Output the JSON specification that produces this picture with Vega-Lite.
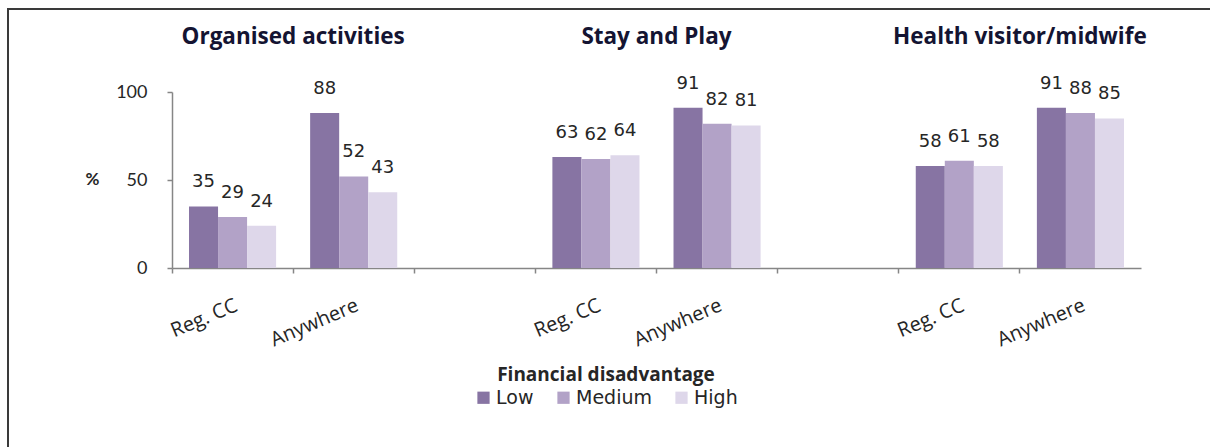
{
  "$schema": "https://vega.github.io/schema/vega-lite/v6.json",
  "width": 1202,
  "height": 438,
  "autosize": "none",
  "padding": {"left": 8, "top": 9, "right": 0, "bottom": 0},
  "background": "white",
  "config": {
    "view": {"stroke": "#3a3a3a", "strokeWidth": 2, "strokeDash": [1202, 1640, 440, 20]},
    "font": "Lato"
  },
  "datasets": {
    "bars": [
      {"cat": "Organised activities|Reg. CC", "level": "Low", "value": 35},
      {"cat": "Organised activities|Reg. CC", "level": "Medium", "value": 29},
      {"cat": "Organised activities|Reg. CC", "level": "High", "value": 24},
      {"cat": "Organised activities|Anywhere", "level": "Low", "value": 88},
      {"cat": "Organised activities|Anywhere", "level": "Medium", "value": 52},
      {"cat": "Organised activities|Anywhere", "level": "High", "value": 43},
      {"cat": "Stay and Play|Reg. CC", "level": "Low", "value": 63},
      {"cat": "Stay and Play|Reg. CC", "level": "Medium", "value": 62},
      {"cat": "Stay and Play|Reg. CC", "level": "High", "value": 64},
      {"cat": "Stay and Play|Anywhere", "level": "Low", "value": 91},
      {"cat": "Stay and Play|Anywhere", "level": "Medium", "value": 82},
      {"cat": "Stay and Play|Anywhere", "level": "High", "value": 81},
      {"cat": "Health visitor/midwife|Reg. CC", "level": "Low", "value": 58},
      {"cat": "Health visitor/midwife|Reg. CC", "level": "Medium", "value": 61},
      {"cat": "Health visitor/midwife|Reg. CC", "level": "High", "value": 58},
      {"cat": "Health visitor/midwife|Anywhere", "level": "Low", "value": 91},
      {"cat": "Health visitor/midwife|Anywhere", "level": "Medium", "value": 88},
      {"cat": "Health visitor/midwife|Anywhere", "level": "High", "value": 85}
    ],
    "titles": [
      {"cat": "Organised activities|Anywhere", "title": "Organised activities"},
      {"cat": "Stay and Play|Anywhere", "title": "Stay and Play"},
      {"cat": "Health visitor/midwife|Anywhere", "title": "Health visitor/midwife"}
    ]
  },
  "layer": [
    {
      "data": {"name": "bars"},
      "mark": {"type": "bar"},
      "encoding": {
        "x": {
          "field": "cat",
          "type": "nominal",
          "sort": null,
          "scale": {
            "domain": [
              "Organised activities|Reg. CC", "Organised activities|Anywhere", "gap1",
              "Stay and Play|Reg. CC", "Stay and Play|Anywhere", "gap2",
              "Health visitor/midwife|Reg. CC", "Health visitor/midwife|Anywhere"
            ],
            "range": [164, 1133],
            "paddingInner": 0,
            "paddingOuter": 0
          },
          "axis": {
            "orient": "bottom",
            "offset": -179,
            "title": null,
            "domainColor": "#868686",
            "domainWidth": 1.5,
            "tickColor": "#868686",
            "tickWidth": 1.5,
            "tickSize": 5,
            "bandPosition": 0,
            "labelAngle": -23,
            "labelAlign": "right",
            "labelBaseline": "top",
            "labelPadding": 22,
            "labelFont": "Open Sans",
            "labelFontSize": 20,
            "labelColor": "#262626",
            "labelOverlap": false,
            "labelExpr": "indexof(datum.value, '|') > 0 ? split(datum.value, '|')[1] : ''"
          }
        },
        "xOffset": {
          "field": "level",
          "type": "nominal",
          "scale": {"domain": ["Low", "Medium", "High"], "paddingInner": 0, "paddingOuter": 0.586}
        },
        "y": {
          "field": "value",
          "type": "quantitative",
          "scale": {"domain": [0, 100], "range": [259, 83], "nice": false},
          "axis": {
            "orient": "left",
            "offset": -164,
            "values": [0, 50, 100],
            "grid": false,
            "domainColor": "#868686",
            "domainWidth": 1.5,
            "tickColor": "#868686",
            "tickWidth": 1.5,
            "tickSize": 5,
            "labelPadding": 20,
            "labelFont": "Lato",
            "labelFontSize": 18,
            "labelColor": "#262626",
            "title": "%",
            "titleAngle": 0,
            "titleX": -80,
            "titleY": 170,
            "titleAlign": "center",
            "titleBaseline": "middle",
            "titleFont": "Lato",
            "titleFontSize": 17,
            "titleFontWeight": "bold",
            "titleColor": "#262626"
          }
        },
        "color": {
          "field": "level",
          "type": "nominal",
          "scale": {"domain": ["Low", "Medium", "High"], "range": ["#8774a3", "#b2a2c7", "#ded7ea"]},
          "legend": {
            "orient": "none",
            "legendX": 466,
            "legendY": 357,
            "direction": "horizontal",
            "title": "Financial  disadvantage",
            "titleFont": "Open Sans",
            "titleFontWeight": "bold",
            "titleFontSize": 19,
            "titleColor": "#262626",
            "titleAnchor": "middle",
            "titleLimit": 500,
            "titlePadding": 3,
            "labelFont": "DejaVu Sans",
            "labelFontSize": 19,
            "labelColor": "#262626",
            "labelOffset": 3,
            "labelLimit": 200,
            "symbolType": "square",
            "symbolSize": 150,
            "symbolStrokeWidth": 0,
            "columnPadding": 20
          }
        }
      }
    },
    {
      "data": {"name": "bars"},
      "mark": {"type": "text", "baseline": "alphabetic", "dy": -19, "font": "DejaVu Sans", "fontSize": 18, "color": "#262626"},
      "encoding": {
        "x": {"field": "cat", "type": "nominal", "sort": null},
        "xOffset": {"field": "level", "type": "nominal"},
        "y": {"field": "value", "type": "quantitative"},
        "text": {"field": "value", "type": "quantitative"}
      }
    },
    {
      "data": {"name": "titles"},
      "mark": {"type": "text", "baseline": "alphabetic", "align": "center", "dx": 0, "font": "Open Sans", "fontWeight": "bold", "fontSize": 22.5, "color": "#141432"},
      "encoding": {
        "x": {"field": "cat", "type": "nominal", "sort": null, "bandPosition": 0},
        "y": {"datum": 127},
        "text": {"field": "title", "type": "nominal"}
      }
    }
  ]
}
